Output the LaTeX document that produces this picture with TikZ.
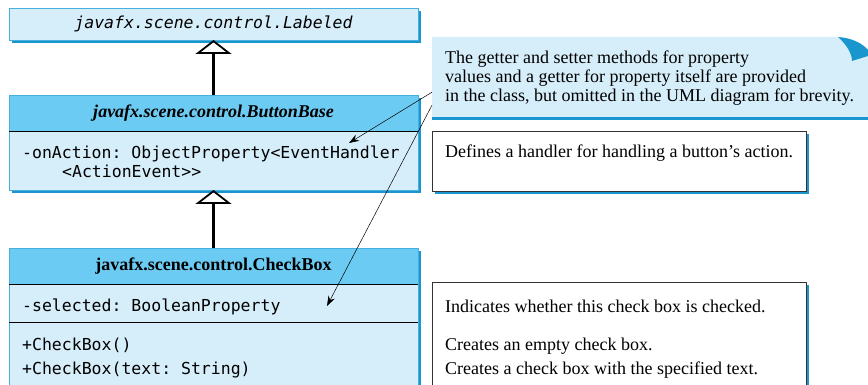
\documentclass[tikz,border=0pt]{standalone}
\usepackage{fontspec}
\setmainfont{Liberation Serif}
\setmonofont{DejaVu Sans Mono}
\usetikzlibrary{arrows.meta, shadows, positioning}

\definecolor{umlfill}{RGB}{214,238,250}
\definecolor{umlhead}{RGB}{108,203,242}
\definecolor{umlshade}{RGB}{24,150,205}
\definecolor{umledge}{RGB}{70,175,222}

\tikzset{
  boxshade/.style={drop shadow={shadow xshift=3pt, shadow yshift=-3pt, fill=umlshade, opacity=1}},
  classcell/.style={draw=umledge, line width=0.6pt, fill=umlfill, minimum width=409pt, inner sep=0pt, outer sep=0pt, anchor=north west, boxshade},
  headcell/.style={classcell, fill=umlhead, minimum height=36pt, font=\fontsize{18}{19}\selectfont\bfseries},
  membertext/.style={anchor=base west, inner sep=0pt, font=\fontsize{16.5}{19}\selectfont\ttfamily},
  plaintext/.style={anchor=base west, inner sep=0pt, font=\fontsize{18}{19}\selectfont},
  textbox/.style={draw=black!80, line width=0.8pt, fill=white, minimum width=374pt, inner sep=0pt, anchor=north west, boxshade},
  inherit/.style={-{Triangle[open, length=14pt, width=36pt, line width=1.8pt]}, line width=2.2pt},
  pointer/.style={-{Stealth[length=10pt, width=7pt]}, line width=0.5pt}
}

\begin{document}
\begin{tikzpicture}[x=1pt, y=-1pt]
    \clip (0,0) rectangle (868,385);
    \fill[white] (0,0) rectangle (868,385);

    % classe Labeled
    \node[classcell, minimum height=32pt, font=\fontsize{16.5}{19}\selectfont\ttfamily\itshape] (labeled) at (9,8) {javafx.scene.control.Labeled};

    % classe ButtonBase
    \node[headcell, font=\fontsize{18}{19}\selectfont\bfseries\itshape] (bbHead) at (9,95) {javafx.scene.control.ButtonBase};
    \node[classcell, minimum height=59pt, below=0pt of bbHead] (bbBody) {};
    \draw[line width=0.9pt] (bbHead.south west) -- (bbHead.south east); % separador
    \node[membertext] at (22,159) {-onAction: ObjectProperty<EventHandler};
    \node[membertext] at (62,178) {<ActionEvent>>};

    % classe CheckBox
    \node[headcell] (cbHead) at (9,248) {javafx.scene.control.CheckBox};
    \node[classcell, minimum height=38pt, below=0pt of cbHead] (cbAttr) {};
    \node[classcell, minimum height=70pt, below=0pt of cbAttr] (cbOps) {};
    \draw[line width=0.9pt] (cbHead.south west) -- (cbHead.south east) (cbAttr.south west) -- (cbAttr.south east);
    \node[membertext] at (22,311) {-selected: BooleanProperty};
    \node[membertext] at (22,350) {+CheckBox()};
    \node[membertext] at (22,374) {+CheckBox(text: String)};

    % heranca
    \draw[inherit] (bbHead.north) -- (labeled.south);
    \draw[inherit] (cbHead.north) -- (bbBody.south);

    % nota com canto dobrado
    \fill[umlfill] (432,37) -- (838,37) .. controls (847,45) and (852,54) .. (852,61) -- (868,56) -- (868,117) -- (432,117) -- cycle;
    \fill[umlshade] (838,37) .. controls (853,38) and (863,44) .. (868,50) -- (868,56) -- (852,61) .. controls (852,54) and (847,45) .. (838,37) -- cycle;
    \draw[umlshade, line width=3pt] (432,118.5) -- (868,118.5);
    \node[anchor=north west, minimum width=436pt, minimum height=80pt, inner sep=0pt] (note) at (432,37) {};
    \node[plaintext] (noteA) at (445,64) {The getter and setter methods for property};
    \node[plaintext] (noteB) at (445,83) {values and a getter for property itself are provided};
    \node[plaintext] (noteC) at (445,102) {in the class, but omitted in the UML diagram for brevity.};

    % caixas de descricao
    \node[textbox, minimum height=60pt] (actionBox) at (432,131) {};
    \node[plaintext] at (445,158) {Defines a handler for handling a button’s action.};
    \node[textbox, minimum height=120pt] (checkBox) at (432,282) {};
    \node[plaintext] at (445,312) {Indicates whether this check box is checked.};
    \node[plaintext] at (445,350) {Creates an empty check box.};
    \node[plaintext] at (445,374) {Creates a check box with the specified text.};

    % setas da nota
    \coordinate (onActTip) at (349,143);
    \coordinate (selTip) at (327,306);
    \draw[pointer] ([yshift=-15pt]note.west) -- (onActTip);
    \draw[pointer] ([yshift=-28pt]note.west) -- (selTip);
\end{tikzpicture}
\end{document}
